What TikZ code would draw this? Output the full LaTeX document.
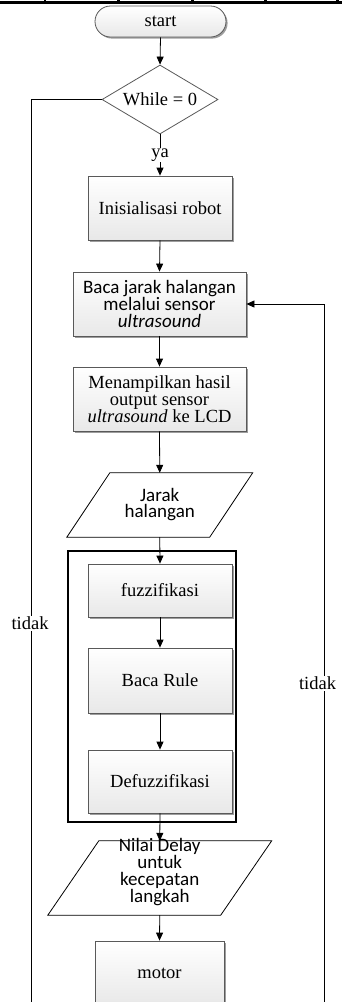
\documentclass[tikz,border=0pt]{standalone}
\usepackage{fontspec}
\setmainfont{Liberation Serif}
\newfontfamily\calibri{Carlito}
\usetikzlibrary{shapes.geometric,shadows,arrows.meta}

\begin{document}
\begin{tikzpicture}[x=1pt,y=1pt,
  font=\fontsize{18.5}{17}\selectfont,
  box/.style={draw=black!65, line width=0.8pt, top color=white, bottom color=black!9,
    drop shadow={shadow xshift=1.6pt, shadow yshift=-1.6pt, fill=black!55, opacity=0.7},
    align=center, inner sep=0pt},
  term/.style={box, rounded corners=15.5pt, minimum width=131pt, minimum height=31pt},
  decision/.style={diamond, draw=black!65, line width=0.8pt, fill=white, aspect=1.68,
    minimum width=116pt, minimum height=69pt, inner sep=0pt},
  iobody/.style={draw=none, inner sep=0pt, align=center},
  ioline/.style={draw=black, line width=0.8pt, fill=white},
  sans/.style={font=\calibri\fontsize{19}{16.7}\selectfont},
  arr/.style={line width=0.8pt, -{Triangle[length=8pt,width=7pt]}},
  link/.style={line width=0.8pt},
  lbl/.style={fill=white, inner sep=1pt}]

\useasboundingbox (0,0) rectangle (342,-1002);

% table border along the top edge
\draw[line width=3pt] (0,-2.5) -- (342,-2.5);
\foreach \tx in {45,118.5,192.5,265.5,337.5}
  \draw[line width=2.5pt] (\tx,0) -- (\tx,-3);

% main flow
\node[term] (start) at (160.5,-21.5) {start};
\node[decision] (cond) at (160,-99.5) {While = 0};
\node[box, minimum width=144pt, minimum height=64pt] (init) at (160,-208) {Inisialisasi robot};
\node[box, sans, minimum width=173pt, minimum height=64pt] (baca) at (159.5,-304)
  {Baca jarak halangan\\melalui sensor\\\textit{ultrasound}};
\node[box, minimum width=173pt, minimum height=64pt] (lcd) at (159.5,-399)
  {Menampilkan hasil\\output sensor\\\textit{ultrasound} ke LCD};

% input: obstacle distance
\node[iobody, minimum width=142.5pt, minimum height=64pt] (jarak) at (159.75,-505) {};
\draw[ioline] ([xshift=21.5pt]jarak.north west) -- ([xshift=21.5pt]jarak.north east)
  -- ([xshift=-21.5pt]jarak.south east) -- ([xshift=-21.5pt]jarak.south west) -- cycle;
\node[iobody, sans] (jaraktext) at (159.75,-504.5) {Jarak\\halangan};

% fuzzy block
\node[draw, line width=2pt, minimum width=168pt, minimum height=271pt, inner sep=0pt]
  (fuzzy) at (152,-686.5) {};
\node[box, minimum width=144pt, minimum height=53pt] (fuzz) at (160,-590.5) {fuzzifikasi};
\node[box, minimum width=144pt, minimum height=65pt] (rule) at (160,-680.5) {Baca Rule};
\node[box, minimum width=144pt, minimum height=63pt] (defuzz) at (160,-781.5) {Defuzzifikasi};

% output: delay value
\node[iobody, minimum width=172.5pt, minimum height=74pt] (delay) at (159.75,-878) {};
\draw[ioline] ([xshift=25.5pt]delay.north west) -- ([xshift=25.5pt]delay.north east)
  -- ([xshift=-25.5pt]delay.south east) -- ([xshift=-25.5pt]delay.south west) -- cycle;
\node[iobody, sans] (delaytext) at (159.75,-872)
  {Nilai Delay\\untuk\\kecepatan\\langkah};

\node[box, minimum width=129pt, minimum height=64pt] (motor) at (159.5,-973) {motor};

% connectors
\draw[arr] (start.south) -- (cond.north);
\draw[arr] (cond.south) -- node[lbl] {ya} (init.north);
\draw[arr] (init.south) -- (baca.north);
\draw[arr] (baca.south) -- (lcd.north);
\draw[arr] (lcd.south) -- (jarak.north);
\draw[arr] (jarak.south) -- (fuzz.north);
\draw[arr] (fuzz.south) -- (rule.north);
\draw[arr] (rule.south) -- (defuzz.north);
\draw[arr] (defuzz.south) -- (delay.north);
\draw[arr] (delay.south) -- (motor.north);

% loops back
\coordinate (lend) at (31,-1010);
\coordinate (rend) at (324,-1010);
\draw[link] (cond.west) -| (lend);
\draw[arr] (rend) |- (baca.east);
\node[lbl] (tidakL) at (30,-623) {tidak};
\node[lbl] (tidakR) at (317.5,-683.5) {tidak};

\end{tikzpicture}
\end{document}
